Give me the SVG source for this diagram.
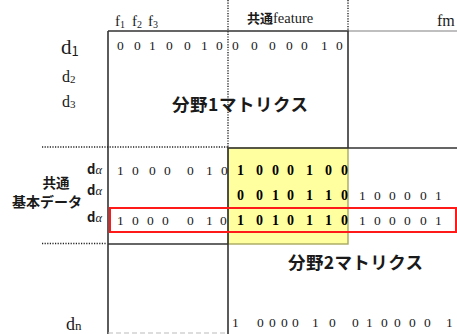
<svg xmlns="http://www.w3.org/2000/svg" width="457" height="334" viewBox="0 0 457 334">
<style>
.serif{font-family:"Liberation Serif","Times New Roman",serif;fill:#1a1a1a}
.num{font-family:"Liberation Serif","Times New Roman",serif;font-size:13.5px;fill:#1a1a1a}
.bnum{font-family:"Liberation Serif","Times New Roman",serif;font-size:14px;font-weight:bold;fill:#000}
.jp{font-family:"Noto Sans CJK JP","Noto Sans",sans-serif;font-weight:bold;fill:#1a1a1a}
.solid{stroke:#333;stroke-width:1.6;fill:none}
.dot{stroke:#222;stroke-width:1.4;stroke-dasharray:1.2 1.4;fill:none}
</style>
<rect width="457" height="334" fill="#fff"/>
<g id="overlap">
<rect x="228" y="148" width="120" height="96" fill="#ffffa0" stroke="#a8a860" stroke-width="1.4"/>
</g>
<g id="frames">
<line x1="348" y1="31" x2="457" y2="31" stroke="#aaa" stroke-width="1.5"/>
<line x1="108" y1="244" x2="228" y2="244" class="solid" stroke-width="2"/>
<line x1="108" y1="31" x2="108" y2="334" class="solid"/>
<line x1="108" y1="333" x2="228" y2="333" stroke="#bbb" stroke-width="1.2" stroke-dasharray="5 3"/>
</g>
<g id="matrix1">
<polyline points="108,31 348,31 348,148" class="solid"/>
<text class="jp" x="172" y="111" font-size="17.5" textLength="136">分野1マトリクス</text>
</g>
<g id="matrix2">
<polyline points="457,148 228,148 228,334" class="solid"/>
<text class="jp" x="288" y="269" font-size="17.5" textLength="135">分野2マトリクス</text>
</g>
<g id="connectors">
<line x1="228" y1="0" x2="228" y2="147" class="dot"/>
<line x1="348" y1="0" x2="348" y2="30" class="dot"/>
<line x1="42" y1="147" x2="228" y2="147" class="dot"/>
<line x1="42" y1="243.5" x2="107" y2="243.5" class="dot"/>
</g>
<g id="highlight">
<rect x="110" y="208" width="346" height="24" fill="none" stroke="#ff1a1a" stroke-width="2"/>
</g>
<g id="header">
<text class="serif" y="26" font-size="15"><tspan x="115">f</tspan><tspan font-size="10" dy="2">1</tspan><tspan x="132" dy="-2">f</tspan><tspan font-size="10" dy="2">2</tspan><tspan x="148" dy="-2">f</tspan><tspan font-size="10" dy="2">3</tspan></text>
<text x="247" y="23"><tspan class="jp" font-size="13">共通</tspan><tspan class="serif" font-size="14.5">feature</tspan></text>
<text class="serif" x="437" y="26" font-size="16">fm</text>
</g>
<g id="rowlabels">
<text class="serif" x="61" y="54" font-size="21">d<tspan font-family="Noto Sans CJK JP, sans-serif" font-size="13" dy="2">1</tspan></text>
<text class="serif" x="62" y="82" font-size="16">d<tspan font-size="11" dy="1">2</tspan></text>
<text class="serif" x="62" y="107" font-size="16">d<tspan font-size="11" dy="1">3</tspan></text>
<text class="serif" x="66" y="330" font-size="18">d<tspan font-size="13">n</tspan></text>
<text x="87" y="174"><tspan class="jp" font-size="13">d</tspan><tspan class="serif" font-size="12.5" font-style="italic">α</tspan></text>
<text x="87" y="195"><tspan class="jp" font-size="13">d</tspan><tspan class="serif" font-size="12.5" font-style="italic">α</tspan></text>
<text x="87" y="222"><tspan class="jp" font-size="13">d</tspan><tspan class="serif" font-size="12.5" font-style="italic">α</tspan></text>
<text class="jp" x="56" y="188" font-size="13.5" text-anchor="middle">共通</text>
<text class="jp" x="47" y="207" font-size="14" text-anchor="middle">基本データ</text>
</g>
<g id="data">
<text class="num" y="50" x="117 134 149 166 184 201 216 232 251 269 286 301 321 336">00100100000010</text>
<text class="num" y="175" x="117 132 149 164 187 206 221">1000010</text>
<text class="bnum" y="175" x="237 256 272 287 306 325 341">1000100</text>
<text class="bnum" y="200" x="237 256 272 287 306 325 341">0010110</text>
<text class="num" y="200" x="359 374 389 404 420 435">100001</text>
<text class="num" y="225" x="117 132 147 162 187 206 220">1000010</text>
<text class="bnum" y="225" x="237 256 272 287 306 325 341">1010110</text>
<text class="num" y="225" x="359 374 389 404 420 435">100001</text>
<text class="num" y="327" x="232 257 269 281 292 312 329 352 366 381 394 409 424 446">10000100100001</text>
</g>
</svg>
